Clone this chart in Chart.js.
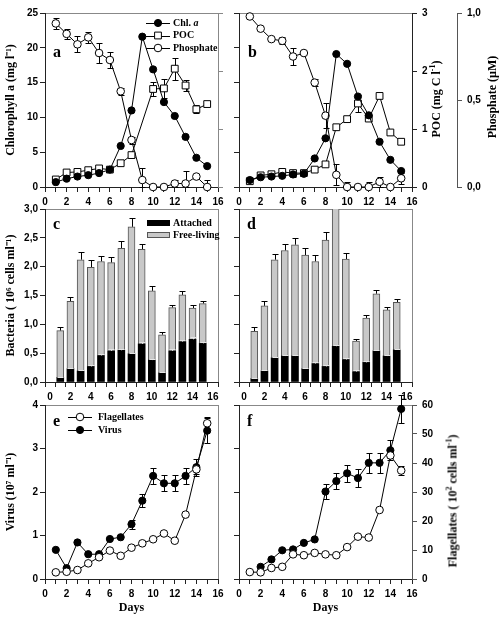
<!DOCTYPE html>
<html lang="en">
<head>
<meta charset="UTF-8">
<title>Chl a, bacteria, virus and flagellates</title>
<script src="https://cdn.jsdelivr.net/npm/chart.js"></script>
<style>
  body { margin: 0; background: #fff; }
  #page { position: relative; width: 503px; height: 620px; overflow: hidden; background: #fff; }
  #page canvas { position: absolute; }
  .lbl { position: absolute; font-family: "Liberation Serif", serif; font-weight: bold; color: #000; white-space: nowrap; line-height: 1; }
  .letter { font-size: 16px; }
  .rot { font-size: 12px; transform: translate(-50%, -50%) rotate(-90deg); }
  .rot sup { font-size: 8px; }
</style>
</head>
<body>
<div id="page">
  <canvas id="chartA" width="232" height="210" style="left:0;top:0"></canvas>
  <canvas id="chartB" width="274" height="210" style="left:229px;top:0"></canvas>
  <canvas id="chartC" width="232" height="209" style="left:0;top:196px"></canvas>
  <canvas id="chartD" width="197" height="209" style="left:229px;top:196px"></canvas>
  <canvas id="chartE" width="232" height="228" style="left:0;top:392px"></canvas>
  <canvas id="chartF" width="223" height="228" style="left:229px;top:392px"></canvas>

  <div class="lbl letter" style="left:53px;top:44px">a</div>
  <div class="lbl letter" style="left:248px;top:44px">b</div>
  <div class="lbl letter" style="left:53px;top:216px">c</div>
  <div class="lbl letter" style="left:247px;top:216px">d</div>
  <div class="lbl letter" style="left:53px;top:413px">e</div>
  <div class="lbl letter" style="left:247px;top:413px">f</div>

  <div class="lbl rot" style="left:435px;top:99px">POC (mg C l<sup>-1</sup>)</div>
  <div class="lbl rot" style="left:492px;top:97px">Phosphate (µM)</div>
  <div class="lbl rot" style="left:452px;top:501px">Flagellates ( 10<sup>2</sup> cells ml<sup>-1</sup>)</div>
</div>
<script>
// sampling days
const days = [1, 2, 3, 4, 5, 6, 7, 8, 9, 10, 11, 12, 13, 14, 15];

// panel a
const chlA = [0.7, 1.2, 1.5, 1.7, 2.0, 2.5, 5.9, 11.0, 21.6, 16.9, 12.2, 10.2, 7.2, 4.2, 3.0];
const pocA = [0.13, 0.25, 0.26, 0.29, 0.32, 0.30, 0.41, 0.55, null, 1.69, 1.70, 2.04, 1.75, 1.34, 1.43];
const pocAErr = [0, 0, 0, 0, 0, 0, 0, 0.04, 0, 0.12, 0.17, 0.19, 0.10, 0.07, 0];
const phosA = [0.94, 0.88, 0.82, 0.86, 0.77, 0.73, 0.55, 0.27, 0.04, 0, 0, 0.02, 0.02, 0.06, 0];
const phosAErr = [0.03, 0.03, 0.045, 0.03, 0.06, 0.045, 0.02, 0.02, 0.07, 0, 0, 0.02, 0.07, 0.01, 0.04];

// panel b
const chlB = [1.0, 1.4, 1.5, 1.6, 1.8, 1.9, 4.1, 7.0, 19.1, 17.7, 13.0, 10.3, 6.5, 3.9, 2.3];
const pocB = [0.10, 0.20, 0.22, 0.26, 0.24, 0.24, 0.30, 0.39, 1.03, 1.17, 1.44, 1.18, 1.57, 0.94, 0.78];
const pocBErr = [0, 0, 0, 0, 0.06, 0, 0, 0, 0, 0, 0.14, 0, 0, 0, 0.03];
const phosB = [0.98, 0.91, 0.85, 0.84, 0.75, 0.77, 0.60, 0.41, 0.07, 0, 0, 0, 0.03, 0, 0.05];
const phosBErr = [0, 0, 0, 0.02, 0.05, 0, 0.02, 0.07, 0.06, 0.03, 0, 0.03, 0.03, 0.02, 0.03];

// panel c (10^6 cells/ml)
const attachedC = [0.08, 0.23, 0.19, 0.27, 0.46, 0.54, 0.55, 0.49, 0.66, 0.38, 0.16, 0.54, 0.70, 0.74, 0.67];
const attachedCErr = [0.01, 0.02, 0.02, 0.02, 0.03, 0.03, 0.03, 0.02, 0.03, 0.02, 0.02, 0.03, 0.03, 0.04, 0.03];
const freeC = [0.81, 1.17, 1.93, 1.72, 1.63, 1.53, 1.77, 2.20, 1.64, 1.20, 0.66, 0.75, 0.81, 0.54, 0.69];
const totalCErr = [0.07, 0.07, 0.13, 0.13, 0.10, 0.09, 0.12, 0.16, 0.10, 0.09, 0.05, 0.05, 0.07, 0.05, 0.05];

// panel d
const attachedD = [0.06, 0.19, 0.42, 0.45, 0.45, 0.23, 0.32, 0.27, 0.62, 0.39, 0.18, 0.34, 0.54, 0.45, 0.56];
const attachedDErr = [0.01, 0.02, 0.02, 0.02, 0.02, 0.02, 0.02, 0.02, 0.03, 0.02, 0.02, 0.02, 0.02, 0.02, 0.02];
const freeD = [0.82, 1.13, 1.70, 1.83, 1.93, 1.97, 1.77, 2.19, 2.48, 1.74, 0.53, 0.77, 0.99, 0.80, 0.82];
const totalDErr = [0.08, 0.08, 0.10, 0.12, 0.12, 0.12, 0.12, 0.14, 0, 0.10, 0.04, 0.05, 0.07, 0.05, 0.06];

// panel e (virus 10^7/ml, flagellates 10^2 cells/ml)
const virusE = [0.67, 0.25, 0.84, 0.57, 0.57, 0.92, 0.96, 1.26, 1.80, 2.37, 2.20, 2.20, 2.37, 2.57, 3.41];
const virusEErr = [0, 0, 0, 0, 0, 0, 0, 0.10, 0.15, 0.18, 0.18, 0.18, 0.18, 0.20, 0.28];
const flagE = [2.3, 2.5, 3.1, 5.4, 7.5, 9.8, 8.0, 10.8, 12.3, 13.7, 15.7, 13.2, 22.2, 37.8, 53.7];
const flagEErr = [0, 0, 0, 0, 0, 0, 0, 0, 0, 0, 0, 0, 0, 1.5, 2.0];

// panel f
const virusF = [null, 0.28, 0.45, 0.66, 0.68, 0.83, 0.91, 2.01, 2.25, 2.43, 2.32, 2.67, 2.67, 2.96, 3.91];
const virusFErr = [0, 0, 0, 0, 0, 0, 0, 0.17, 0.19, 0.19, 0.20, 0.23, 0.23, 0.23, 0.33];
const flagF = [2.4, 2.3, 3.8, 4.2, 8.5, 8.2, 9.0, 8.5, 8.2, 11.0, 14.6, 14.3, 23.8, 42.6, 37.4];
const flagFErr = [0, 0, 0, 0, 0, 0, 0, 0, 0, 0, 0, 0, 0, 1.0, 1.5];

const axisColor = '#222';
const frameColor = '#888';

Chart.defaults.font.family = '"Liberation Sans", Arial, sans-serif';
Chart.defaults.font.size = 10;
Chart.defaults.font.weight = 'bold';
Chart.defaults.color = '#000';
Chart.defaults.animation = false;
Chart.defaults.plugins.legend.display = false;
Chart.defaults.plugins.tooltip.enabled = false;

function pts(values) {
  return days.map((d, i) => ({ x: d, y: values[i] }));
}

function comma(v) {
  return v.toFixed(1).replace('.', ',');
}

// thin grey box round every plot area
const frame = {
  id: 'frame',
  beforeDraw(chart) {
    const { ctx, chartArea: a } = chart;
    ctx.save();
    ctx.strokeStyle = frameColor;
    ctx.lineWidth = 1;
    ctx.strokeRect(Math.round(a.left) + 0.5, Math.round(a.top) + 0.5,
      Math.round(a.right - a.left), Math.round(a.bottom - a.top));
    ctx.restore();
  }
};

function drawErrors(chart, onTop) {
  const ctx = chart.ctx;
  chart.data.datasets.forEach((ds, i) => {
    if (!ds.errors || !!ds.errorsOnTop !== onTop) return;
    const meta = chart.getDatasetMeta(i);
    const scale = chart.scales[meta.yAxisID];
    ctx.save();
    ctx.strokeStyle = ds.errorColor || '#000';
    ctx.lineWidth = 1;
    ctx.beginPath();
    meta.data.forEach((el, j) => {
      const err = ds.errors[j];
      const v = ds.data[j].y;
      if (!err || v == null) return;
      const x = Math.round(el.x) + 0.5;
      let hi, lo;
      if (meta.type === 'bar') {
        const top = scale.getValueForPixel(el.y);
        hi = Math.round(scale.getPixelForValue(top + err)) + 0.5;
        lo = el.y;
      } else {
        hi = Math.round(scale.getPixelForValue(v + err)) + 0.5;
        lo = Math.round(scale.getPixelForValue(Math.max(v - err, scale.min))) + 0.5;
        ctx.moveTo(x - 3, lo);
        ctx.lineTo(x + 3, lo);
      }
      ctx.moveTo(x, lo);
      ctx.lineTo(x, hi);
      ctx.moveTo(x - 3, hi);
      ctx.lineTo(x + 3, hi);
    });
    ctx.stroke();
    ctx.restore();
  });
}

const errorBars = {
  id: 'errorBars',
  beforeDatasetsDraw(chart) { drawErrors(chart, false); },
  afterDatasetsDraw(chart) { drawErrors(chart, true); }
};

// legends sit inside the plot, line + marker or a swatch
const panelLegend = {
  id: 'panelLegend',
  afterDraw(chart, args, opts) {
    if (!opts.items) return;
    const ctx = chart.ctx;
    const font = 'bold 10px "Liberation Serif", serif';
    ctx.save();
    ctx.textBaseline = 'middle';
    opts.items.forEach((idx, row) => {
      const ds = chart.data.datasets[idx];
      const y = opts.y + row * opts.gap;
      ctx.lineWidth = 1;
      if (opts.swatch) {
        ctx.fillStyle = ds.backgroundColor;
        ctx.fillRect(opts.x, y - 3, 23, 6);
        ctx.strokeStyle = ds.borderColor;
        ctx.strokeRect(opts.x + 0.5, y - 2.5, 22, 5);
      } else {
        const cx = opts.x + 12;
        ctx.strokeStyle = ds.borderColor;
        ctx.beginPath();
        ctx.moveTo(opts.x, Math.round(y) + 0.5);
        ctx.lineTo(opts.x + 24, Math.round(y) + 0.5);
        ctx.stroke();
        ctx.fillStyle = ds.pointBackgroundColor;
        ctx.beginPath();
        if (ds.pointStyle === 'rect') {
          const h = ds.pointRadius * Math.SQRT1_2;
          ctx.rect(cx - h, y - h, 2 * h, 2 * h);
        } else {
          ctx.arc(cx, y, ds.pointRadius, 0, Math.PI * 2);
        }
        ctx.fill();
        ctx.stroke();
      }
      ctx.fillStyle = '#000';
      ctx.font = font;
      const tx = opts.x + opts.textOffset;
      ctx.fillText(ds.label, tx, y);
      if (ds.labelItalic) {
        const w = ctx.measureText(ds.label).width;
        ctx.font = 'italic ' + font;
        ctx.fillText(ds.labelItalic, tx + w, y);
      }
    });
    ctx.restore();
  }
};

function xAxis(height, title) {
  return {
    type: 'linear', position: 'bottom', min: 0, max: 16,
    ticks: {
      stepSize: 1, autoSkip: false, maxRotation: 0, padding: 4,
      callback: v => (v % 2 === 0 ? v : '')
    },
    grid: { drawOnChartArea: false, tickLength: 5, color: axisColor },
    border: { color: axisColor },
    title: title
      ? { display: true, text: title, font: { family: '"Liberation Serif", serif', size: 12, weight: 'bold' }, padding: { top: 0, bottom: 5 } }
      : { display: false },
    afterFit: s => { s.height = height; }
  };
}

function yAxis(position, min, max, step, width, opts) {
  opts = opts || {};
  return {
    type: 'linear', position: position, min: min, max: max,
    weight: opts.weight || 0,
    ticks: {
      stepSize: step, padding: opts.padding || 2,
      callback: v => (opts.labels ? (opts.format ? opts.format(v) : v) : '')
    },
    grid: { drawOnChartArea: false, tickLength: 5, color: opts.color || axisColor },
    border: { color: opts.color || axisColor },
    title: opts.title
      ? { display: true, text: opts.title, font: { family: '"Liberation Serif", serif', size: 12, weight: 'bold' }, padding: { top: 4, bottom: 0 } }
      : { display: false },
    afterFit: s => { s.width = width; }
  };
}

const filled = {
  borderColor: '#000', borderWidth: 1, pointBackgroundColor: '#000', pointBorderColor: '#000',
  pointRadius: 3.6, pointBorderWidth: 1, pointStyle: 'circle', clip: false
};
const open = {
  borderColor: '#000', borderWidth: 1, pointBackgroundColor: '#fff', pointBorderColor: '#000',
  pointRadius: 3.8, pointBorderWidth: 1, pointStyle: 'circle', clip: false
};
const square = {
  borderColor: '#000', borderWidth: 1, pointBackgroundColor: '#fff', pointBorderColor: '#000',
  pointRadius: 4.8, pointBorderWidth: 1, pointStyle: 'rect', clip: false
};

function topOptions(scales, legend) {
  return {
    responsive: false,
    layout: { padding: { top: 13, right: 0, left: 0, bottom: 0 } },
    scales: scales,
    plugins: { panelLegend: legend || {} }
  };
}

// a
new Chart(document.getElementById('chartA'), {
  type: 'line',
  data: {
    datasets: [
      Object.assign({ label: 'Chl. ', labelItalic: 'a', data: pts(chlA), yAxisID: 'y' }, filled),
      Object.assign({ label: 'POC', data: pts(pocA), yAxisID: 'poc', spanGaps: true, errors: pocAErr }, square),
      Object.assign({ label: 'Phosphate', data: pts(phosA), yAxisID: 'phos', errors: phosAErr }, open)
    ]
  },
  options: topOptions({
    x: xAxis(23),
    y: yAxis('left', 0, 25, 5, 45, { labels: true, title: 'Chlorophyll a (mg l⁻¹)' }),
    poc: yAxis('right', 0, 3, 1, 14, { color: frameColor }),
    phos: { type: 'linear', display: false, min: 0, max: 1 }
  }, { x: 146, y: 23, gap: 12.5, textOffset: 27, items: [0, 1, 2] }),
  plugins: [frame, errorBars, panelLegend]
});

// b
new Chart(document.getElementById('chartB'), {
  type: 'line',
  data: {
    datasets: [
      Object.assign({ label: 'Chl. a', data: pts(chlB), yAxisID: 'y' }, filled),
      Object.assign({ label: 'POC', data: pts(pocB), yAxisID: 'poc', errors: pocBErr }, square),
      Object.assign({ label: 'Phosphate', data: pts(phosB), yAxisID: 'phos', errors: phosBErr }, open)
    ]
  },
  options: topOptions({
    x: xAxis(23),
    y: yAxis('left', 0, 25, 5, 10),
    poc: yAxis('right', 0, 3, 1, 45, { labels: true, padding: 5, weight: 0 }),
    phos: yAxis('right', 0, 1, 0.5, 46, { labels: true, padding: 5, weight: 1, format: comma, color: '#555' })
  }),
  plugins: [frame, errorBars]
});

function barOptions(leftWidth, labels, title, legend) {
  return {
    responsive: false,
    layout: { padding: { top: 13, right: 14, left: 0, bottom: 0 } },
    scales: {
      x: Object.assign(xAxis(23), { stacked: true }),
      y: Object.assign(yAxis('left', 0, 3, 0.5, leftWidth, { labels: labels, title: title, format: comma }), { stacked: true })
    },
    datasets: { bar: { barThickness: 7 } },
    plugins: { panelLegend: legend || {} }
  };
}

function barData(attached, attachedErr, free, totalErr) {
  return {
    datasets: [
      { label: 'Attached', data: pts(attached), backgroundColor: '#000', borderColor: '#000', borderWidth: 0,
        errors: attachedErr, errorsOnTop: true, errorColor: '#e6e6e6' },
      { label: 'Free-living', data: pts(free), backgroundColor: '#c8c8c8', borderColor: '#555', borderWidth: 1,
        errors: totalErr }
    ]
  };
}

// c
new Chart(document.getElementById('chartC'), {
  type: 'bar',
  data: barData(attachedC, attachedCErr, freeC, totalCErr),
  options: barOptions(45, true, 'Bacteria ( 10⁶ cells ml⁻¹)', { x: 147, y: 27, gap: 12, textOffset: 26, items: [0, 1], swatch: true }),
  plugins: [frame, errorBars, panelLegend]
});

// d
new Chart(document.getElementById('chartD'), {
  type: 'bar',
  data: barData(attachedD, attachedDErr, freeD, totalDErr),
  options: barOptions(10, false),
  plugins: [frame, errorBars]
});

function bottomOptions(scales, right, legend) {
  return {
    responsive: false,
    layout: { padding: { top: 13, right: right, left: 0, bottom: 0 } },
    scales: scales,
    plugins: { panelLegend: legend || {} }
  };
}

// e
new Chart(document.getElementById('chartE'), {
  type: 'line',
  data: {
    datasets: [
      Object.assign({ label: 'Flagellates', data: pts(flagE), yAxisID: 'flag', errors: flagEErr }, open),
      Object.assign({ label: 'Virus', data: pts(virusE), yAxisID: 'y', errors: virusEErr }, filled)
    ]
  },
  options: bottomOptions({
    x: xAxis(41, 'Days'),
    y: yAxis('left', 0, 4, 1, 45, { labels: true, title: 'Virus (10⁷ ml⁻¹)' }),
    flag: { type: 'linear', display: false, min: 0, max: 60 }
  }, 14, { x: 68, y: 25, gap: 13, textOffset: 30, items: [0, 1] }),
  plugins: [frame, errorBars, panelLegend]
});

// f
new Chart(document.getElementById('chartF'), {
  type: 'line',
  data: {
    datasets: [
      Object.assign({ label: 'Flagellates', data: pts(flagF), yAxisID: 'flag', errors: flagFErr }, open),
      Object.assign({ label: 'Virus', data: pts(virusF), yAxisID: 'y', errors: virusFErr }, filled)
    ]
  },
  options: bottomOptions({
    x: xAxis(41, 'Days'),
    y: yAxis('left', 0, 4, 1, 10),
    flag: yAxis('right', 0, 60, 10, 40, { labels: true, padding: 5, color: '#555' })
  }, 0),
  plugins: [frame, errorBars]
});
</script>
</body>
</html>
